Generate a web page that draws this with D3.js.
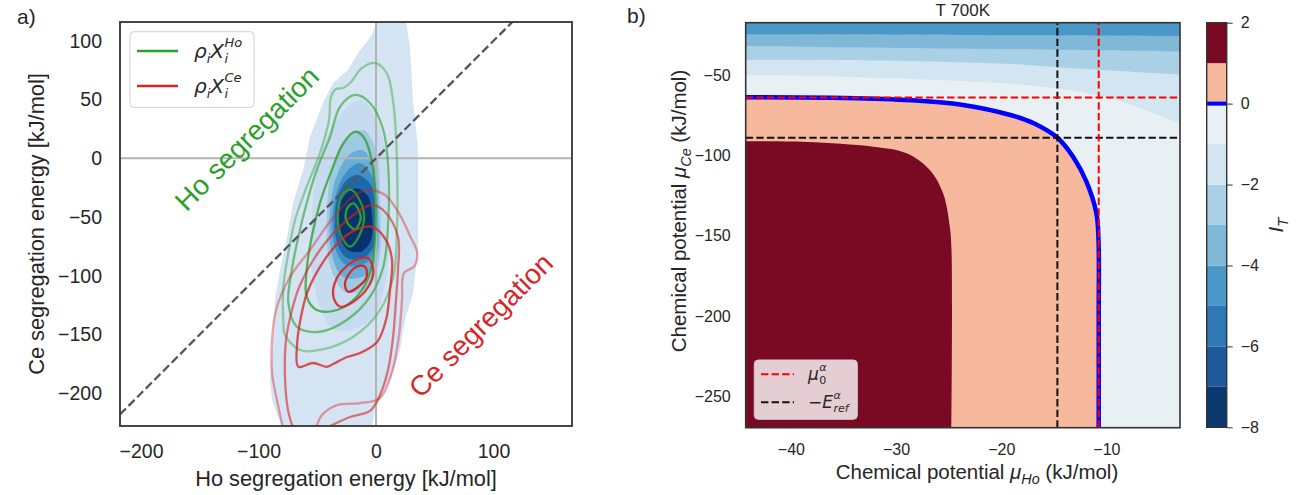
<!DOCTYPE html>
<html>
<head>
<meta charset="utf-8">
<script src="https://cdn.jsdelivr.net/npm/d3@7/dist/d3.min.js"></script>
<style>
  html,body{margin:0;padding:0;background:#fff;}
  svg{display:block;}
  text{font-family:"Liberation Sans",Arial,Helvetica,sans-serif;fill:#262626;}
</style>
</head>
<body>
<svg id="fig" width="1296" height="495"></svg>
<script>
// ================= Panel a: segregation energy spectrum (kJ/mol) =================
const energyTicksX = [-200, -100, 0, 100];
const energyTicksY = [-200, -150, -100, -50, 0, 50, 100];

// envelope of occupied histogram bins, [E_Ho, E_Ce]
const histEnvelope = [[0.9,117],[-3.4,104.9],[-15.3,89.6],[-23.8,75.1],[-36.6,64.1],[-45.1,47.1],[-56.2,18.1],[-62.1,-10.0],[-70.6,-38.0],[-75.7,-67.0],[-81.7,-95.1],[-86.0,-120.6],[-87.7,-154.6],[-90.2,-188.7],[-88.5,-205.7],[-80.0,-229],[-3.4,-229],[-0.9,-214.2],[5.1,-201.4],[13.6,-184.4],[20.4,-163.1],[24.7,-137.6],[31.5,-114.6],[35.7,-78.0],[35.7,9.6],[31.5,49.6],[28.9,94.7],[25.5,117]];
// nested count levels of the histogram core
const histLevel1 = [[-11.9,49.6],[5.1,19.8],[10.2,-44.0],[8.5,-103.6],[-5.1,-137.6],[-34.9,-146.1],[-51.9,-112.1],[-54.5,-44.0],[-46.0,7.0],[-30.6,36.9]];
const histLevel2 = [[-11.1,24.1],[0.0,7.1],[3.4,-35.6],[2.6,-86.6],[-6.8,-110.4],[-26.4,-113.8],[-39.1,-90.8],[-41.7,-44.0],[-36.6,-5.4],[-24.7,15.6]];
const histLevel3 = [[-11.9,7.1],[-0.9,-8.3],[1.7,-44.0],[0.9,-82.3],[-8.5,-99.3],[-28.1,-101.0],[-37.4,-82.3],[-39.1,-44.0],[-33.2,-14.3],[-23.0,2.8]];
const histLevel4 = [[-13.6,-4.0],[-2.6,-16.8],[0.0,-44.0],[-0.9,-76.3],[-8.5,-89.1],[-25.5,-90.8],[-34.9,-76.3],[-36.6,-45.7],[-31.5,-22.7],[-22.1,-8.3]];
const histLevel5 = [[-15.3,-14.3],[-4.3,-22.8],[-0.9,-44.0],[-1.7,-73.8],[-9.4,-84.0],[-24.7,-84.9],[-33.2,-72.1],[-34.9,-45.7],[-30.6,-27.0],[-23.0,-16.8]];
const histLevel6 = [[-17.0,-25.4],[-6.8,-32.2],[-3.4,-48.3],[-4.3,-69.6],[-11.9,-79.0],[-23.8,-78.0],[-30.6,-66.1],[-31.5,-45.7],[-27.2,-32.1]];
const histColors = ["#d4e4f3","#c6dbef","#9ecae1","#6aaed6","#3f8fc5","#1f67ac","#08316d"];

// KDE iso-lines of rho_i X_i^Ho, outer to inner
const hoKde1 = [[-0.9,81.1],[9.1,72.6],[14.7,47.1],[17.6,4.5],[17.6,-66.7],[14.7,-100.8],[3.4,-129.1],[-19.3,-151.8],[-47.7,-163.1],[-64.7,-163.1],[-77.4,-150.4],[-78.9,-137.6],[-78.9,-109.3],[-74.6,-80.6],[-68.9,-52.5],[-59.0,-24.2],[-47.7,4.5],[-40.0,32.6],[-38.3,52.2],[-34.0,59.0],[-28.1,59.8],[-22.1,64.1],[-11.9,76.9]];
const hoKde2 = [[-17.9,53.9],[-5.1,47.1],[6.2,24.1],[10.5,-9.6],[10.5,-52.1],[6.2,-92.3],[-5.1,-117.8],[-24.9,-137.6],[-47.7,-147.6],[-67.5,-143.3],[-74.6,-123.1],[-71.7,-95.1],[-66.1,-66.7],[-59.0,-38.0],[-50.5,-10.0],[-39.1,18.4],[-30.6,43.9]];
const hoKde3 = [[-17.9,22.6],[-10.8,18.4],[-5.1,4.5],[-0.9,-24.2],[-0.9,-66.7],[-5.1,-97.6],[-16.4,-117.8],[-33.4,-129.1],[-50.5,-129.1],[-59.0,-117.8],[-59.0,-95.1],[-54.7,-66.7],[-47.7,-38.0],[-37.7,-10.0],[-27.8,12.8]];
const hoKde4 = [[-20.7,-27.0],[-10.8,-44.0],[-12.2,-61.0],[-22.1,-75.2],[-30.6,-63.6],[-32.1,-44.0],[-27.8,-29.5]];
const hoKde5 = [[-19.3,-38.3],[-13.0,-49.7],[-17.9,-60.4],[-25.5,-52.5],[-24.4,-42.3]];

// KDE iso-lines of rho_i X_i^Ce, outer to inner (outer two leave through the lower edge)
const ceKde1 = [[-79.1,-230],[-84.3,-205.7],[-88.5,-182.7],[-88.5,-154.6],[-85.1,-129.1],[-73.2,-101.0],[-56.2,-78.0],[-34.9,-48.3],[-17.9,-31.2],[-6.8,-27.0],[7.7,-31.2],[20.4,-48.3],[28.9,-66.0],[35.0,-80.0],[32.5,-92.0],[23.8,-97.5],[22.1,-120.6],[19.6,-150.4],[13.6,-181.9],[3.4,-204.0],[-13.6,-208.3],[-33.2,-210.0],[-46.0,-218.5],[-51.1,-230]];
const ceKde2 = [[-70.6,-230],[-74.9,-214.2],[-77.4,-188.7],[-76.6,-154.6],[-71.5,-129.1],[-64.7,-107.8],[-47.7,-78.0],[-26.4,-54.2],[-3.4,-39.7],[7.7,-45.7],[18.7,-66.9],[18.7,-95.1],[17.0,-120.6],[14.5,-152.1],[10.2,-180.2],[3.4,-201.4],[-5.1,-215.0],[-22.1,-220.1],[-43.4,-230]];
const ceKde3 = [[-2.6,-58.5],[8.5,-69.6],[13.6,-86.6],[11.9,-112.1],[8.5,-137.6],[0.9,-156.3],[-13.6,-165.7],[-24.7,-169.1],[-36.6,-175.1],[-42.0,-177.4],[-53.6,-174.2],[-66.1,-177.4],[-67.2,-158.9],[-64.7,-139.3],[-58.7,-114.6],[-45.1,-88.3],[-28.1,-67.9],[-13.6,-59.4]];
const ceKde4 = [[-6.6,-85.1],[-2.3,-95.1],[-6.6,-109.3],[-19.3,-122.0],[-30.6,-126.3],[-36.3,-117.8],[-33.4,-102.1],[-22.1,-89.4],[-13.6,-85.1]];
const ceKde5 = [[-9.4,-92.3],[-7.9,-100.8],[-15.1,-109.3],[-23.6,-113.5],[-26.4,-107.8],[-23.6,-99.3],[-16.4,-92.3]];
const kdeOpacity = [0.42, 0.6, 0.78, 0.9, 1];

// ================= Panel b: I_T over chemical potentials at 700 K =================
const muHoTicks = [-40, -30, -20, -10];
const muCeTicks = [-250, -200, -150, -100, -50];
const levelBounds = [-8, -7, -6, -5, -4, -3, -2, -1, 0, 1, 2];
const levelColors = ["#0b3a6e","#1f5b9c","#2f78b5","#4b97c7","#80b8d8","#aad0e5","#d2e5f0","#e8f0f4","#f7b99e","#7a0a23"];
const colorbarTicks = [2, 0, -2, -4, -6, -8];
// iso-lines of I_T, [mu_Ho, mu_Ce]
const isoMinus4 = [[-44.3,-24.70],[-23.94,-25.13],[-3.0,-25.75]];
const isoMinus3 = [[-44.3,-31.97],[-25.37,-33.52],[-14.82,-34.27],[-3.0,-35.27]];
const isoMinus2 = [[-44.3,-40.49],[-31.73,-40.99],[-19.0,-43.16],[-14.82,-45.03],[-3.0,-49.81]];
const isoMinus1 = [[-44.3,-50.19],[-38.0,-50.62],[-25.37,-53.30],[-15.86,-57.46],[-9.50,-64.73],[-3.0,-80.28]];
const isoZero = [[-44.3,-63.9],[-34.87,-64.3],[-28.53,-65.73],[-23.78,-68.46],[-19.03,-75.05],[-16.81,-80.28],[-14.66,-89.0],[-13.17,-100.8],[-11.9,-116.3],[-10.95,-136.0],[-10.75,-152.6],[-10.73,-200],[-10.73,-269.3]];
const isoOne = [[-44.3,-91.22],[-38.51,-91.65],[-32.18,-94.58],[-29.0,-98.68],[-26.79,-109.06],[-25.53,-123.55],[-24.89,-144.31],[-24.73,-158.8],[-24.73,-269.3]];
const mu0 = {ho: -10.73, ce: -64.0};
const eRefNeg = {ho: -14.66, ce: -89.0};

// ================================= drawing =================================
const svg = d3.select("#fig");
const defs = svg.append("defs");
const MATH = '"DejaVu Sans",sans-serif';

// inline text with sub/superscripts held in tspans
function richText(parent, x, y, size, parts, family) {
  const t = parent.append("text").attr("x", x).attr("y", y).style("font-size", size + "px");
  if (family) t.style("font-family", family);
  let shift = 0;
  parts.forEach(p => {
    const s = t.append("tspan").text(p.t);
    const target = p.sub ? size * 0.25 : 0;
    if (target - shift !== 0) s.attr("dy", target - shift);
    shift = target;
    if (p.sub) s.style("font-size", (size * 0.7) + "px");
    if (p.it) s.style("font-style", "italic");
  });
  return t;
}

// symbol followed by a subscript and a superscript stacked on top of each other
function scriptedSymbol(parent, x, y, size, base, sub, sup, subItalic) {
  const main = parent.append("text").attr("x", x).attr("y", y)
    .style("font-size", size + "px").style("font-family", MATH);
  base.forEach(p => {
    const s = main.append("tspan").text(p.t);
    if (p.it) s.style("font-style", "italic");
    if (p.sub) s.attr("dy", size * 0.25).style("font-size", (size * 0.65) + "px");
    if (p.after) s.attr("dy", -size * 0.25);
  });
  const x1 = x + main.node().getComputedTextLength() + 0.5;
  const ss = size * 0.65;
  parent.append("text").attr("x", x1).attr("y", y + size * 0.26)
    .style("font-size", ss + "px").style("font-family", MATH)
    .style("font-style", subItalic ? "italic" : "normal").text(sub);
  parent.append("text").attr("x", x1).attr("y", y - size * 0.53)
    .style("font-size", ss + "px").style("font-family", MATH)
    .style("font-style", "italic").text(sup);
}

// ---------- panel a ----------
const A = {l: 120, t: 22, r: 572, b: 426};
const xa = d3.scaleLinear().domain([-217.9, 166.8]).range([A.l, A.r]);
const ya = d3.scaleLinear().domain([-227.8, 116.0]).range([A.b, A.t]);
defs.append("clipPath").attr("id", "clipA").append("rect")
  .attr("x", A.l).attr("y", A.t).attr("width", A.r - A.l).attr("height", A.b - A.t);
const ga = svg.append("g").attr("clip-path", "url(#clipA)");
const lineA = d3.line().x(d => xa(d[0])).y(d => ya(d[1]));

ga.append("path").attr("d", lineA.curve(d3.curveLinearClosed)(histEnvelope)).attr("fill", histColors[0]);
[histLevel1, histLevel2, histLevel3, histLevel4, histLevel5, histLevel6].forEach((lv, i) => {
  ga.append("path").attr("d", lineA.curve(d3.curveCatmullRomClosed.alpha(0.5))(lv)).attr("fill", histColors[i + 1]);
});

// zero reference lines
ga.append("line").attr("x1", xa(0)).attr("x2", xa(0)).attr("y1", A.t).attr("y2", A.b)
  .attr("stroke", "#b3b3b3").attr("stroke-width", 2);
ga.append("line").attr("x1", A.l).attr("x2", A.r).attr("y1", ya(0)).attr("y2", ya(0))
  .attr("stroke", "#b3b3b3").attr("stroke-width", 2);

// KDE contours
[hoKde1, hoKde2, hoKde3, hoKde4, hoKde5].forEach((c, i) => {
  ga.append("path").attr("d", lineA.curve(d3.curveCatmullRomClosed.alpha(0.5))(c))
    .attr("fill", "none").attr("stroke", "#2ca02c").attr("stroke-opacity", kdeOpacity[i]).attr("stroke-width", 2.3);
});
[ceKde1, ceKde2, ceKde3, ceKde4, ceKde5].forEach((c, i) => {
  const curve = i < 2 ? d3.curveCatmullRom.alpha(0.5) : d3.curveCatmullRomClosed.alpha(0.5);
  ga.append("path").attr("d", lineA.curve(curve)(c))
    .attr("fill", "none").attr("stroke", "#d62728").attr("stroke-opacity", kdeOpacity[i]).attr("stroke-width", 2.3);
});

// equal-energy diagonal
ga.append("line").attr("x1", xa(-240)).attr("y1", ya(-240)).attr("x2", xa(200)).attr("y2", ya(200))
  .attr("stroke", "#555").attr("stroke-width", 2.3).attr("stroke-dasharray", "8.5,3.7");

// region annotations
svg.append("text").attr("transform", `translate(${xa(-110)},${ya(17)}) rotate(-45)`)
  .attr("text-anchor", "middle").attr("dy", "0.35em").style("font-size", "28px").style("fill", "#2ca02c")
  .text("Ho segregation");
svg.append("text").attr("transform", `translate(${xa(89)},${ya(-142)}) rotate(-45)`)
  .attr("text-anchor", "middle").attr("dy", "0.35em").style("font-size", "28px").style("fill", "#d62728")
  .text("Ce segregation");

// axes a
const axA_x = svg.append("g").attr("transform", `translate(0,${A.b})`)
  .call(d3.axisBottom(xa).tickValues(energyTicksX).tickSize(0).tickPadding(18));
const axA_y = svg.append("g").attr("transform", `translate(${A.l},0)`)
  .call(d3.axisLeft(ya).tickValues(energyTicksY).tickSize(0).tickPadding(18));
[axA_x, axA_y].forEach(ax => {
  ax.select(".domain").remove();
  ax.selectAll("text").style("font-size", "19.5px").style("fill", "#262626")
    .style("font-family", '"Liberation Sans",Arial,sans-serif');
});
svg.append("rect").attr("x", A.l).attr("y", A.t).attr("width", A.r - A.l).attr("height", A.b - A.t)
  .attr("fill", "none").attr("stroke", "#333").attr("stroke-width", 1.8);

svg.append("text").attr("x", (A.l + A.r) / 2).attr("y", 486).attr("text-anchor", "middle")
  .style("font-size", "21.8px").text("Ho segregation energy [kJ/mol]");
svg.append("text").attr("transform", `translate(44,${(A.t + A.b) / 2}) rotate(-90)`).attr("text-anchor", "middle")
  .style("font-size", "21.8px").text("Ce segregation energy [kJ/mol]");
svg.append("text").attr("x", 17).attr("y", 24).style("font-size", "21px").text("a)");

// legend a
const legA = svg.append("g");
legA.append("rect").attr("x", 130).attr("y", 31.7).attr("width", 124).attr("height", 75.6).attr("rx", 4)
  .attr("fill", "#fff").attr("fill-opacity", 0.85).attr("stroke", "#d0d0d0");
[["#2ca02c", 51, "Ho"], ["#d62728", 86, "Ce"]].forEach(([col, yy, el]) => {
  legA.append("line").attr("x1", 137).attr("x2", 178).attr("y1", yy).attr("y2", yy)
    .attr("stroke", col).attr("stroke-width", 2.5);
  scriptedSymbol(legA, 194, yy + 7, 20,
    [{t: "ρ", it: true}, {t: "i", it: true, sub: true}, {t: "X", it: true, after: true}], "i", el, true);
});

// ---------- panel b ----------
const B = {l: 745.7, t: 22.7, r: 1180, b: 427.7};
const xb = d3.scaleLinear().domain([-44.3, -3.0]).range([B.l, B.r]);
const yb = d3.scaleLinear().domain([-269.3, -17.5]).range([B.b, B.t]);
defs.append("clipPath").attr("id", "clipB").append("rect")
  .attr("x", B.l).attr("y", B.t).attr("width", B.r - B.l).attr("height", B.b - B.t);
const gb = svg.append("g").attr("clip-path", "url(#clipB)");
const lineB = d3.line().x(d => xb(d[0])).y(d => yb(d[1])).curve(d3.curveCatmullRom.alpha(0.5));
const colorOf = lo => levelColors[levelBounds.indexOf(lo)];
const [xL, xR] = xb.domain(), [yBot, yTop] = yb.domain();

// band between -1 and 0 fills the background
gb.append("rect").attr("x", B.l).attr("y", B.t).attr("width", B.r - B.l).attr("height", B.b - B.t)
  .attr("fill", colorOf(-1));
// upper bands: everything above an iso-line takes the next lower band colour
[[isoMinus1, -2], [isoMinus2, -3], [isoMinus3, -4], [isoMinus4, -5]].forEach(([iso, lo]) => {
  const d = lineB(iso) + `L${xb(xR)},${yb(yTop) - 2}L${xb(xL)},${yb(yTop) - 2}Z`;
  gb.append("path").attr("d", d).attr("fill", colorOf(lo));
});
// positive bands in the lower left
[[isoZero, 0], [isoOne, 1]].forEach(([iso, lo]) => {
  const d = lineB(iso) + `L${xb(xL) - 2},${yb(yBot) + 2}Z`;
  gb.append("path").attr("d", d).attr("fill", colorOf(lo));
});
// I_T = 0 contour
gb.append("path").attr("d", lineB(isoZero)).attr("fill", "none").attr("stroke", "#0000ff").attr("stroke-width", 4.5);

// reference lines
const dashed = (x1, y1, x2, y2, col) => gb.append("line")
  .attr("x1", xb(x1)).attr("y1", yb(y1)).attr("x2", xb(x2)).attr("y2", yb(y2))
  .attr("stroke", col).attr("stroke-width", 2).attr("stroke-dasharray", "7.4,3.2");
dashed(eRefNeg.ho, yBot, eRefNeg.ho, yTop, "#111");
dashed(xL, eRefNeg.ce, xR, eRefNeg.ce, "#111");
dashed(mu0.ho, yBot, mu0.ho, yTop, "#ff0000");
dashed(xL, mu0.ce, xR, mu0.ce, "#ff0000");

// axes b
const axB_x = svg.append("g").attr("transform", `translate(0,${B.b})`)
  .call(d3.axisBottom(xb).tickValues(muHoTicks).tickSize(0).tickPadding(16));
const axB_y = svg.append("g").attr("transform", `translate(${B.l},0)`)
  .call(d3.axisLeft(yb).tickValues(muCeTicks).tickSize(0).tickPadding(15));
[axB_x, axB_y].forEach(ax => {
  ax.select(".domain").remove();
  ax.selectAll("text").style("font-size", "16px").style("fill", "#262626")
    .style("font-family", '"Liberation Sans",Arial,sans-serif');
});
svg.append("rect").attr("x", B.l).attr("y", B.t).attr("width", B.r - B.l).attr("height", B.b - B.t)
  .attr("fill", "none").attr("stroke", "#333").attr("stroke-width", 1.6);

svg.append("text").attr("x", (B.l + B.r) / 2).attr("y", 15.5).attr("text-anchor", "middle")
  .style("font-size", "17px").text("T 700K");
svg.append("text").attr("x", 627).attr("y", 23).style("font-size", "21px").text("b)");

richText(svg, 977, 478.5, 20.5, [
  {t: "Chemical potential "}, {t: "μ", it: true}, {t: "Ho", it: true, sub: true}, {t: " (kJ/mol)"}
]).attr("text-anchor", "middle");
richText(svg, 0, 0, 20.5, [
  {t: "Chemical potential "}, {t: "μ", it: true}, {t: "Ce", it: true, sub: true}, {t: " (kJ/mol)"}
]).attr("text-anchor", "middle").attr("transform", "translate(686,211) rotate(-90)");

// legend b
const legB = svg.append("g");
legB.append("rect").attr("x", 754.3).attr("y", 360).attr("width", 103).attr("height", 59.3).attr("rx", 4)
  .attr("fill", "#fff").attr("fill-opacity", 0.8).attr("stroke", "#d0d0d0");
[["#ff0000", 374.3], ["#111", 402.3]].forEach(([col, yy]) => {
  legB.append("line").attr("x1", 761).attr("x2", 794).attr("y1", yy).attr("y2", yy)
    .attr("stroke", col).attr("stroke-width", 2).attr("stroke-dasharray", "7.4,3.2");
});
scriptedSymbol(legB, 808, 380, 17, [{t: "μ", it: true}], "0", "α", false);
scriptedSymbol(legB, 808, 408, 17, [{t: "−"}, {t: "E", it: true}], "ref", "α", true);

// colorbar
const C = {l: 1206.7, r: 1226.7, t: 22.7, b: 427.3};
const yc = d3.scaleLinear().domain([-8, 2]).range([C.b, C.t]);
const gc = svg.append("g");
levelColors.forEach((col, i) => {
  gc.append("rect").attr("x", C.l).attr("width", C.r - C.l)
    .attr("y", yc(levelBounds[i + 1])).attr("height", yc(levelBounds[i]) - yc(levelBounds[i + 1]))
    .attr("fill", col);
});
gc.append("line").attr("x1", C.l).attr("x2", C.r).attr("y1", yc(0)).attr("y2", yc(0))
  .attr("stroke", "#0000ff").attr("stroke-width", 4);
gc.append("rect").attr("x", C.l).attr("y", C.t).attr("width", C.r - C.l).attr("height", C.b - C.t)
  .attr("fill", "none").attr("stroke", "#333").attr("stroke-width", 1.4);
const axC = svg.append("g").attr("transform", `translate(${C.r},0)`)
  .call(d3.axisRight(yc).tickValues(colorbarTicks).tickSize(6).tickPadding(8));
axC.select(".domain").remove();
axC.selectAll("line").attr("stroke", "#333");
axC.selectAll("text").style("font-size", "16px").style("fill", "#262626")
  .style("font-family", '"Liberation Sans",Arial,sans-serif');
richText(svg, 0, 0, 20, [{t: "I", it: true}, {t: "T", it: true, sub: true}], MATH)
  .attr("text-anchor", "middle").attr("transform", "translate(1283,225) rotate(-90)");
</script>
</body>
</html>
